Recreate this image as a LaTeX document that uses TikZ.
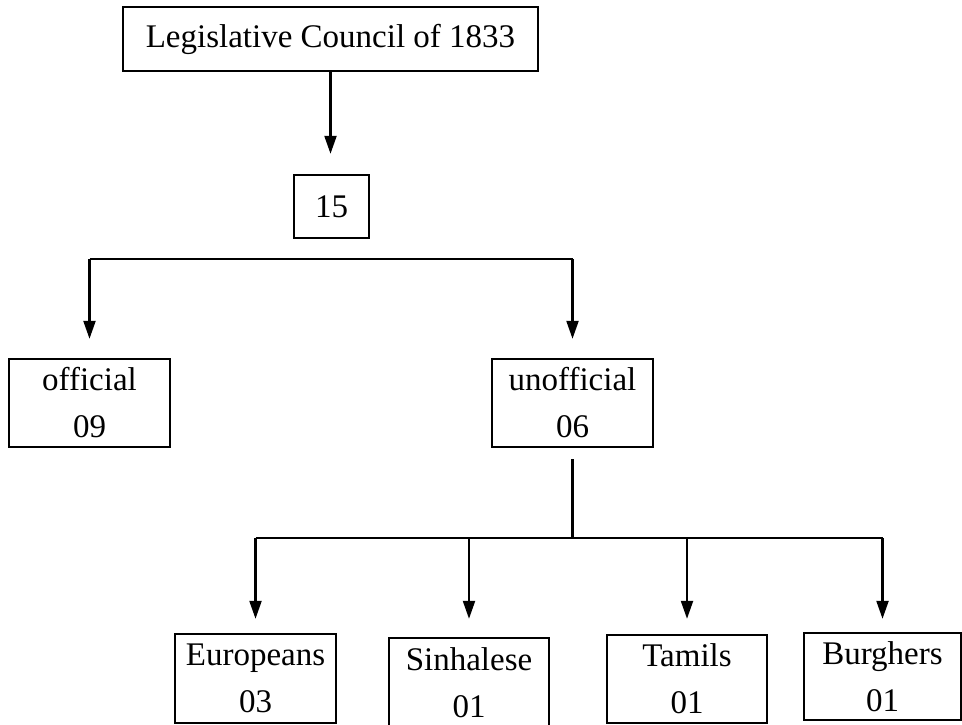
\documentclass[tikz,border=0pt]{standalone}
\usepackage{fontspec}
\setmainfont{Liberation Serif}
\usetikzlibrary{arrows.meta}
\tikzset{
  box/.style={draw, line width=1.2pt, inner sep=0pt, align=center,
    font=\fontsize{16.5}{23.5}\selectfont},
  member/.style={box, minimum width=80.5pt, minimum height=44pt},
  link/.style={line width=1.1pt, -{Triangle[length=9pt, width=6pt]}},
  bus/.style={line width=1.1pt},
}

\begin{document}
\begin{tikzpicture}[x=0.5pt, y=-0.5pt]
        \useasboundingbox (0,0) rectangle (962,724);

        % Council and total
        \node[box, minimum width=207.5pt, minimum height=32pt] (council) at (330.5,39) {Legislative Council of 1833};
        \node[box, minimum width=37.5pt, minimum height=31.5pt] (total) at (331.5,206.5) {15};
        \draw[link, shorten >=10pt] (council.south) -- (council.south |- total.north);

        % Official / unofficial
        \node[member] (off) at (89.5,403) {official\\09};
        \node[member] (unoff) at (572.5,403) {unofficial\\06};
        \coordinate (split) at (331,259);
        \draw[bus] (off.north |- split) -- (unoff.north |- split);
        \draw[link, shorten >=9.5pt] (off.north |- split) -- (off.north);
        \draw[link, shorten >=9.5pt] (unoff.north |- split) -- (unoff.north);

        % Unofficial members
        \node[member, minimum height=44.5pt] (eur) at (255.5,678.5) {Europeans\\03};
        \node[member, minimum width=80pt, minimum height=44.5pt] (sin) at (469,682.5) {Sinhalese\\01};
        \node[member, minimum width=80pt] (tam) at (687,679) {Tamils\\01};
        \node[member, minimum width=78.5pt, minimum height=43.5pt] (bur) at (882.5,676.5) {Burghers\\01};
        \coordinate (branch) at (571,538);
        \draw[bus, shorten <=5.5pt] (unoff.south) -- (unoff.south |- branch);
        \draw[bus] (eur.north |- branch) -- (bur.north |- branch);
        \foreach \n/\s in {eur/7pt, sin/9pt, tam/7.5pt, bur/6.5pt}
          { \draw[link, shorten >=\s] (\n.north |- branch) -- (\n.north); }
\end{tikzpicture}
\end{document}
